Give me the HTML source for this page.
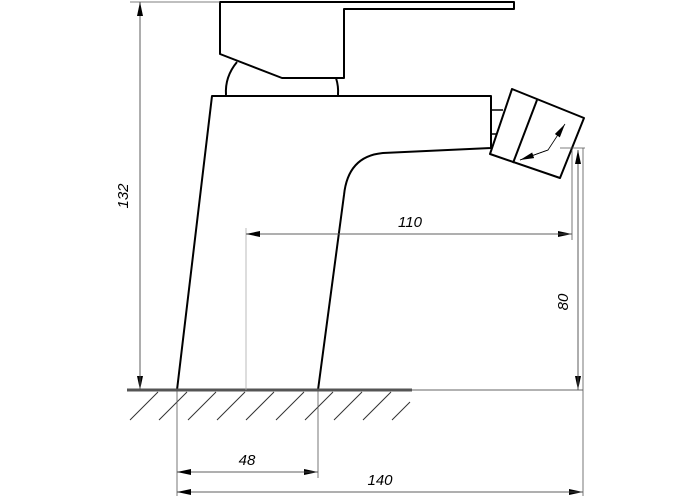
<!DOCTYPE html>
<html><head><style>body{margin:0;background:#fff}svg{display:block}</style></head>
<body>
<svg width="700" height="500" viewBox="0 0 700 500" xmlns="http://www.w3.org/2000/svg" font-family="Liberation Sans, sans-serif">
<defs>
<marker id="a" viewBox="0 0 14 6" refX="14" refY="3" markerWidth="14" markerHeight="6" orient="auto" markerUnits="userSpaceOnUse"><path d="M0,0 L14,3 L0,6z" fill="#000"/></marker>
</defs>
<g fill="none" stroke="#000" stroke-width="2" stroke-linejoin="round">
<!-- handle -->
<path d="M220,2 H514 V9 H344 V78 H282 L220,54 Z"/>
<path d="M226,95 A56,50 0 0 1 237,62"/>
<path d="M336,78 A56,50 0 0 1 338,95"/>
<!-- body -->
<path d="M177,390 L212,96 H491 V148 L383,153 Q348,156 344,195 L318,390"/>
<!-- stub -->
<path d="M491,110 H503 M491,134 H497" stroke-width="1.5"/>
<!-- aerator -->
<path d="M512,89 L584,118 L560,178 L490,154 Z"/>
<path d="M537,100 L513,163"/>
</g>
<g stroke="#000" stroke-width="0.8" fill="none">
<path d="M520,160 L548,150 L565,124" marker-end="url(#a)"/>
<path d="M548,150 L520,160" marker-end="url(#a)"/>
</g>
<!-- ground -->
<line x1="127" y1="390" x2="412" y2="390" stroke="#555" stroke-width="3"/>
<line x1="412" y1="390" x2="583" y2="390" stroke="#666" stroke-width="1"/>
<g stroke="#333" stroke-width="1">
<path d="M130,420 L158,392 M159,420 L187,392 M188,420 L216,392 M217,420 L245,392 M246,420 L274,392 M276,420 L304,392 M305,420 L333,392 M334,420 L362,392 M363,420 L391,392 M392,420 L410,402"/>
</g>
<!-- dimension lines -->
<g stroke="#555" stroke-width="0.8" fill="none">
<line x1="130" y1="2" x2="220" y2="2"/>
<line x1="140" y1="2" x2="140" y2="390" marker-end="url(#a)"/>
<line x1="140" y1="390" x2="140" y2="2" marker-end="url(#a)"/>
<line x1="246" y1="228" x2="246" y2="390" stroke="#aaa"/>
<line x1="246" y1="234" x2="572" y2="234" marker-end="url(#a)"/>
<line x1="572" y1="234" x2="246" y2="234" marker-end="url(#a)"/>
<line x1="572" y1="150" x2="572" y2="240"/>
<line x1="560" y1="148" x2="585" y2="148"/>
<line x1="578" y1="150" x2="578" y2="390" marker-end="url(#a)"/>
<line x1="578" y1="390" x2="578" y2="150" marker-end="url(#a)"/>
<line x1="583" y1="148" x2="583" y2="496"/>
<line x1="177" y1="390" x2="177" y2="496"/>
<line x1="318" y1="390" x2="318" y2="478"/>
<line x1="177" y1="472" x2="318" y2="472" marker-end="url(#a)"/>
<line x1="318" y1="472" x2="177" y2="472" marker-end="url(#a)"/>
<line x1="177" y1="492" x2="583" y2="492" marker-end="url(#a)"/>
<line x1="583" y1="492" x2="177" y2="492" marker-end="url(#a)"/>
</g>
<g font-size="15" font-style="italic" fill="#000">
<text x="128" y="196" transform="rotate(-90 128 196)" text-anchor="middle">132</text>
<text x="410" y="227" text-anchor="middle">110</text>
<text x="568" y="302" transform="rotate(-90 568 302)" text-anchor="middle">80</text>
<text x="247" y="465" text-anchor="middle">48</text>
<text x="380" y="485" text-anchor="middle">140</text>
</g>
</svg>
</body></html>
